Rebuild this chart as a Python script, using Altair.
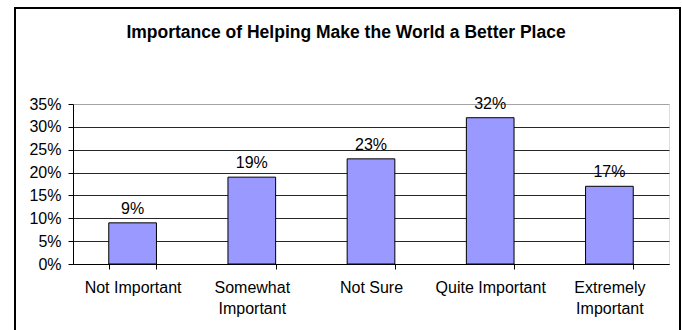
import altair as alt
import pandas as pd

categories = ["Not Important", "Somewhat Important", "Not Sure", "Quite Important", "Extremely Important"]
values = [0.09, 0.19, 0.23, 0.32, 0.17]
y_ticks = [0, 0.05, 0.1, 0.15, 0.2, 0.25, 0.3, 0.35]
title_text = "Importance of Helping Make the World a Better Place"

df = pd.DataFrame({"category": categories, "value": values})

W, H = 596, 160
PL, PT = 73, 104
FONT = "Liberation Sans"

x_enc = alt.X("category:N", sort=categories, title=None,
              scale=alt.Scale(paddingInner=0.6, paddingOuter=0.3),
              axis=alt.Axis(labelAngle=0, labelFont=FONT, labelFontSize=16, labelColor="black",
                            labelPadding=10, labelLineHeight=21, tickSize=5, tickColor="black",
                            tickBand="extent", domainColor="black", labelBaseline="top",
                            labelExpr="datum.label == 'Somewhat Important' || datum.label == 'Extremely Important' ? split(datum.label, ' ') : datum.label"))

y_enc = alt.Y("value:Q", title=None,
              scale=alt.Scale(domain=[0, 0.35], nice=False),
              axis=alt.Axis(format=".0%", values=y_ticks, tickCount=8, labelOverlap=False,
                            labelFont=FONT, labelFontSize=16, labelColor="black", labelPadding=7,
                            tickSize=5, tickColor="black", domainColor="black",
                            grid=True, gridOpacity=0.85,
                            gridColor=alt.condition("datum.value > 0.34", alt.value("#999999"), alt.value("black"))))

bars = alt.Chart(df).mark_bar(color="#9999FF", stroke="black", strokeWidth=1).encode(x=x_enc, y=y_enc)

labels = alt.Chart(df).mark_text(font=FONT, fontSize=16, color="black", baseline="bottom", dy=-6).encode(
    x=alt.X("category:N", sort=categories),
    y=alt.Y("value:Q"),
    text=alt.Text("value:Q", format=".0%"),
)

title = alt.Chart(pd.DataFrame({"t": [title_text]})).mark_text(
    font=FONT, fontSize=17.5, fontWeight="bold", color="black", baseline="middle", align="center"
).encode(x=alt.value(346 - PL), y=alt.value(33 - PT), text="t:N")

frame = alt.Chart(pd.DataFrame({"a": [0]})).mark_rect(
    fill=None, stroke="black", strokeWidth=2, clip=False
).encode(x=alt.value(15 - PL), x2=alt.value(680 - PL), y=alt.value(8 - PT), y2=alt.value(340 - PT))

chart = alt.layer(frame, bars, labels, title).properties(
    width=W, height=H,
    autosize=alt.AutoSizeParams(type="none"),
    padding={"left": PL, "top": PT, "right": 682 - PL - W, "bottom": 330 - PT - H},
).configure_view(stroke=None).configure(background="white")

chart.save("out.html", embed_options={"renderer": "svg", "actions": False})
